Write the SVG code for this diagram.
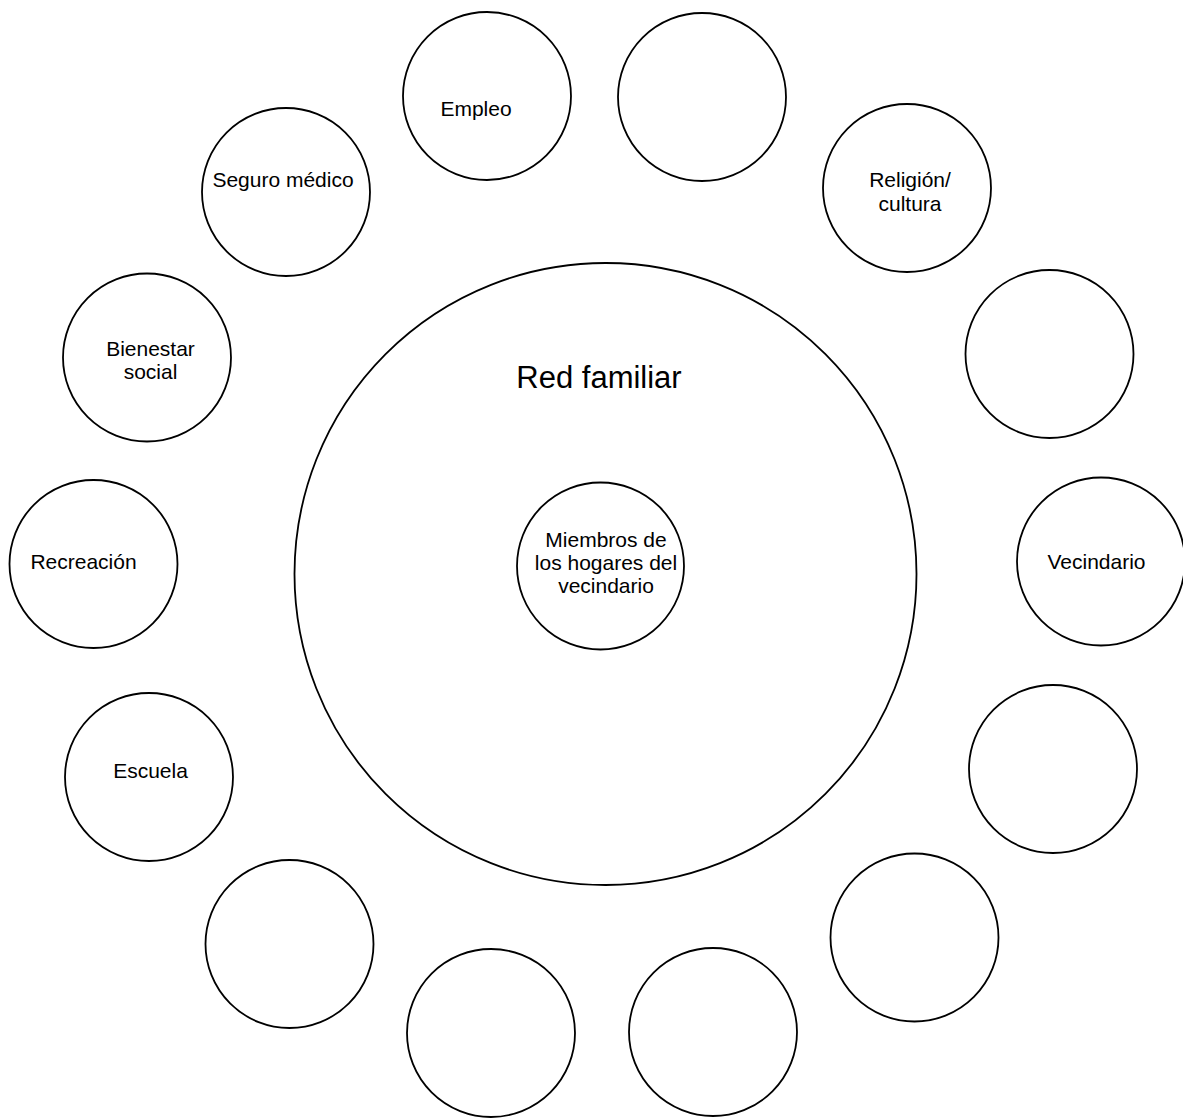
<svg xmlns="http://www.w3.org/2000/svg" width="1183" height="1120" viewBox="0 0 1183 1120">
<style>
.c{fill:#fff;stroke:#000;stroke-width:1.8}
.t{font-family:"Liberation Sans",Arial,sans-serif;font-size:21px;fill:#000;text-anchor:middle}
.big{font-size:31px}
</style>
<rect width="1183" height="1120" fill="#fff"/>
<g id="red-familiar">
<circle class="c" cx="605.5" cy="574" r="311" stroke-width="1.6"/>
<text class="t big" x="599" y="388">Red familiar</text>
</g>
<g id="miembros">
<circle class="c" cx="600.5" cy="566" r="83.5"/>
<text class="t" x="606" y="547">Miembros de</text>
<text class="t" x="606" y="570">los hogares del</text>
<text class="t" x="606" y="593">vecindario</text>
</g>
<g id="empleo">
<circle class="c" cx="487" cy="96" r="84"/>
<text class="t" x="476" y="116">Empleo</text>
</g>
<g id="vacio-1">
<circle class="c" cx="702" cy="97" r="84"/>
</g>
<g id="religion">
<circle class="c" cx="907" cy="188" r="84"/>
<text class="t" x="910" y="187">Religión/</text>
<text class="t" x="910" y="211">cultura</text>
</g>
<g id="vacio-2">
<circle class="c" cx="1049.5" cy="354" r="84"/>
</g>
<g id="vecindario">
<circle class="c" cx="1101" cy="561.5" r="84"/>
<text class="t" x="1096.5" y="569">Vecindario</text>
</g>
<g id="vacio-3">
<circle class="c" cx="1053" cy="769" r="84"/>
</g>
<g id="vacio-4">
<circle class="c" cx="914.5" cy="937.5" r="84"/>
</g>
<g id="vacio-5">
<circle class="c" cx="713" cy="1032" r="84"/>
</g>
<g id="vacio-6">
<circle class="c" cx="491" cy="1033" r="84"/>
</g>
<g id="vacio-7">
<circle class="c" cx="289.5" cy="944" r="84"/>
</g>
<g id="escuela">
<circle class="c" cx="149" cy="777" r="84"/>
<text class="t" x="150.5" y="778">Escuela</text>
</g>
<g id="recreacion">
<circle class="c" cx="93.5" cy="564" r="84"/>
<text class="t" x="83.5" y="569">Recreación</text>
</g>
<g id="bienestar">
<circle class="c" cx="147" cy="357.5" r="84"/>
<text class="t" x="150.5" y="356">Bienestar</text>
<text class="t" x="150.5" y="379">social</text>
</g>
<g id="seguro">
<circle class="c" cx="286" cy="192" r="84"/>
<text class="t" x="283" y="187">Seguro médico</text>
</g>
<g id="connectors"></g>
</svg>
